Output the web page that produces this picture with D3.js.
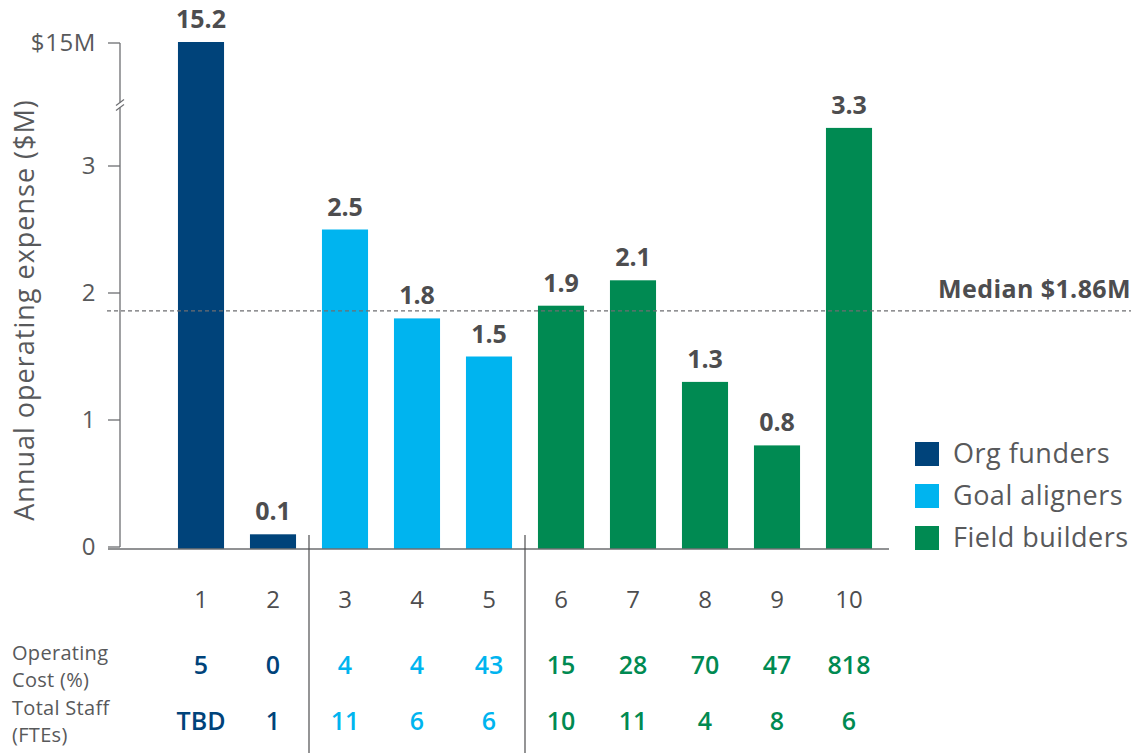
<!DOCTYPE html>
<html>
<head>
<meta charset="utf-8">
<script src="https://cdn.jsdelivr.net/npm/d3@7"></script>
<style>
  html, body { margin: 0; padding: 0; background: #fff; }
  svg { display: block; font-family: "Open Sans", "Noto Sans", sans-serif; }
</style>
</head>
<body>
<svg id="chart" width="1137" height="753"></svg>
<script>
// Organisations by annual operating expense
const categories = ["1", "2", "3", "4", "5", "6", "7", "8", "9", "10"];
const expense = [15.2, 0.1, 2.5, 1.8, 1.5, 1.9, 2.1, 1.3, 0.8, 3.3];
const groupOf = ["Org funders", "Org funders", "Goal aligners", "Goal aligners", "Goal aligners",
                 "Field builders", "Field builders", "Field builders", "Field builders", "Field builders"];
const operatingCost = ["5", "0", "4", "4", "43", "15", "28", "70", "47", "818"];
const totalStaff = ["TBD", "1", "11", "6", "6", "10", "11", "4", "8", "6"];
const groupNames = ["Org funders", "Goal aligners", "Field builders"];
const groupColors = ["#00437a", "#00b4ef", "#008a52"];
const lowerTicks = [0, 1, 2, 3];
const upperTicks = [15];
const upperTickLabels = ["$15M"];
const medianValue = 1.86;
const medianLabel = "Median $1.86M";
const rowLabels = [["Operating", "Cost (%)"], ["Total Staff", "(FTEs)"]];
const axisTitle = "Annual operating expense ($M)";

const svg = d3.select("#chart");
const textGray = "#4d4d4f";
const lightGray = "#58595b";
const axisGray = "#6d6e71";

const color = d3.scaleOrdinal().domain(groupNames).range(groupColors);

const x = d3.scaleBand().domain(categories).range([165, 885])
  .paddingInner(0.36).paddingOuter(0.18);

// Broken value axis: a lower segment for 0–3 and a short upper segment near $15M
const yLow = d3.scaleLinear().domain([0, 3]).range([547, 166]);
const yHigh = d3.scaleLinear().domain([14, 16]).range([48, 38]);
const y = v => (v <= 3.6 ? yLow(v) : yHigh(v));
const baseY = yLow(0);
const axisX = 120;
const breakY = 105;

// Axis line with the break gap
svg.append("line").attr("x1", axisX).attr("x2", axisX)
  .attr("y1", baseY).attr("y2", breakY + 2.5)
  .attr("stroke", axisGray).attr("stroke-width", 1.3);
svg.append("line").attr("x1", axisX).attr("x2", axisX)
  .attr("y1", breakY - 2.5).attr("y2", yHigh(15))
  .attr("stroke", axisGray).attr("stroke-width", 1.3);
[-2.5, 2.5].forEach(dy => {
  svg.append("line")
    .attr("x1", axisX - 4).attr("y1", breakY + dy + 3)
    .attr("x2", axisX + 4).attr("y2", breakY + dy - 3)
    .attr("stroke", axisGray).attr("stroke-width", 1.2);
});

// Ticks and labels
const tickData = lowerTicks.map(t => ({ pos: yLow(t), label: String(t) }))
  .concat(upperTicks.map((t, i) => ({ pos: yHigh(t), label: upperTickLabels[i] })));
const ticks = svg.append("g");
ticks.selectAll("line").data(tickData).join("line")
  .attr("x1", 108).attr("x2", axisX)
  .attr("y1", d => d.pos).attr("y2", d => d.pos)
  .attr("stroke", axisGray).attr("stroke-width", 1.3);
ticks.selectAll("text").data(tickData).join("text")
  .attr("x", 96).attr("y", d => d.pos)
  .attr("dy", "0.35em").attr("text-anchor", "end")
  .attr("font-size", 24).attr("letter-spacing", 0.6).attr("fill", lightGray)
  .text(d => d.label);

// Axis title
svg.append("text")
  .attr("transform", `translate(34, 310) rotate(-90)`)
  .attr("text-anchor", "middle")
  .attr("font-size", 27).attr("letter-spacing", 1).attr("fill", lightGray)
  .text(axisTitle);

// Bars
svg.append("g").selectAll("rect").data(categories).join("rect")
  .attr("x", d => x(d))
  .attr("width", x.bandwidth())
  .attr("y", (d, i) => y(expense[i]))
  .attr("height", (d, i) => baseY + 2 - y(expense[i]))
  .attr("fill", (d, i) => color(groupOf[i]));

// Value labels
svg.append("g").selectAll("text").data(categories).join("text")
  .attr("x", d => x(d) + x.bandwidth() / 2)
  .attr("y", (d, i) => y(expense[i]) - 14)
  .attr("text-anchor", "middle")
  .attr("font-size", 25).attr("font-weight", 700).attr("fill", textGray)
  .text((d, i) => expense[i].toFixed(1));

// Baseline
svg.append("line").attr("x1", 108).attr("x2", 889)
  .attr("y1", baseY + 2).attr("y2", baseY + 2)
  .attr("stroke", axisGray).attr("stroke-width", 1.3);

// Median reference line
svg.append("line").attr("x1", 107).attr("x2", 1131)
  .attr("y1", yLow(medianValue)).attr("y2", yLow(medianValue))
  .attr("stroke", axisGray).attr("stroke-width", 1.3)
  .attr("stroke-dasharray", "4,3");
svg.append("text").attr("x", 1131).attr("y", yLow(medianValue) - 13)
  .attr("text-anchor", "end")
  .attr("font-size", 25).attr("font-weight", 700).attr("letter-spacing", 0.4).attr("fill", textGray)
  .text(medianLabel);

// Group dividers between bar groups
const dividers = [];
for (let i = 1; i < categories.length; i++) {
  if (groupOf[i] !== groupOf[i - 1]) {
    dividers.push((x(categories[i - 1]) + x.bandwidth() + x(categories[i])) / 2);
  }
}
svg.append("g").selectAll("line").data(dividers).join("line")
  .attr("x1", d => d).attr("x2", d => d)
  .attr("y1", 535).attr("y2", 753)
  .attr("stroke", textGray).attr("stroke-width", 1.2);

// Category labels
svg.append("g").selectAll("text").data(categories).join("text")
  .attr("x", d => x(d) + x.bandwidth() / 2).attr("y", 600)
  .attr("dy", "0.35em").attr("text-anchor", "middle")
  .attr("font-size", 24).attr("fill", textGray)
  .text(d => d);

// Table rows beneath the chart
[[operatingCost, 665], [totalStaff, 721]].forEach(([vals, ry]) => {
  svg.append("g").selectAll("text").data(categories).join("text")
    .attr("x", d => x(d) + x.bandwidth() / 2).attr("y", ry)
    .attr("dy", "0.35em").attr("text-anchor", "middle")
    .attr("font-size", 25).attr("font-weight", 600)
    .attr("fill", (d, i) => color(groupOf[i]))
    .text((d, i) => vals[i]);
});

// Row labels
const rowLabelY = [[653, 680], [708, 735]];
rowLabels.forEach((lines, r) => {
  lines.forEach((line, k) => {
    svg.append("text").attr("x", 12).attr("y", rowLabelY[r][k])
      .attr("dy", "0.35em")
      .attr("font-size", 20).attr("letter-spacing", 0.3).attr("fill", lightGray)
      .text(line);
  });
});

// Legend
const legend = svg.append("g").selectAll("g").data(groupNames).join("g")
  .attr("transform", (d, i) => `translate(915, ${454 + i * 42})`);
legend.append("rect").attr("x", 0).attr("y", -12).attr("width", 24).attr("height", 24)
  .attr("fill", d => color(d));
legend.append("text").attr("x", 38).attr("y", 0).attr("dy", "0.35em")
  .attr("font-size", 27).attr("letter-spacing", 0.5).attr("fill", lightGray)
  .text(d => d);
</script>
</body>
</html>
